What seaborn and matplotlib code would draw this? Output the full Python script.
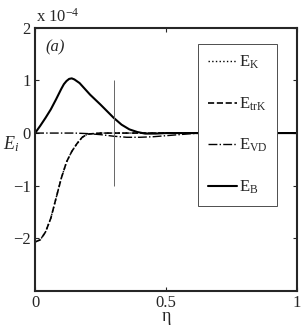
import numpy as np
import pandas as pd
import matplotlib
matplotlib.use("Agg")
import matplotlib.pyplot as plt
import seaborn as sns

# energy terms, in units of 1e-4
eta_B = [0, 0.02, 0.04, 0.06, 0.08, 0.10, 0.11, 0.12, 0.13, 0.14, 0.15, 0.17, 0.19,
         0.21, 0.25, 0.30, 0.33, 0.36, 0.39, 0.42, 0.46, 0.50, 1.0]
E_B = [0, 0.14, 0.29, 0.45, 0.64, 0.84, 0.93, 0.99, 1.03, 1.04, 1.02, 0.95, 0.84,
       0.73, 0.54, 0.29, 0.16, 0.07, 0.02, -0.01, -0.01, 0, 0]

eta_trK = [0, 0.02, 0.04, 0.06, 0.08, 0.10, 0.12, 0.14, 0.16, 0.18, 0.20, 0.25, 0.30, 1.0]
E_trK = [-2.07, -2.03, -1.88, -1.62, -1.24, -0.86, -0.55, -0.35, -0.20, -0.08, -0.02, 0, 0, 0]
E_K = [-2.07, -2.03, -1.88, -1.62, -1.24, -0.86, -0.55, -0.35, -0.20, -0.08, -0.02, 0, 0, 0]

eta_VD = [0, 0.15, 0.20, 0.25, 0.30, 0.35, 0.40, 0.45, 0.50, 0.55, 0.60, 0.65, 1.0]
E_VD = [0, 0, -0.01, -0.03, -0.06, -0.08, -0.08, -0.07, -0.05, -0.03, -0.01, 0, 0]

labels = [r'$\mathrm{E_K}$', r'$\mathrm{E_{trK}}$', r'$\mathrm{E_{VD}}$', r'$\mathrm{E_B}$']
marker_eta = 0.3
marker_span = (-1, 1)

sns.set_style("ticks")
plt.rcParams['font.family'] = ['Liberation Serif', 'DejaVu Serif']
plt.rcParams['mathtext.fontset'] = 'custom'
plt.rcParams['mathtext.rm'] = 'Liberation Serif'
plt.rcParams['mathtext.it'] = 'Liberation Serif:italic'

fig = plt.figure(figsize=(3.05, 3.32), dpi=100)
ax = fig.add_axes([0.115, 0.124, 0.859, 0.792])

sns.lineplot(x=eta_trK, y=E_K, ax=ax, color='black', lw=1.0, linestyle=':', label=labels[0])
sns.lineplot(x=eta_trK, y=E_trK, ax=ax, color='black', lw=1.2, linestyle='--', label=labels[1])
sns.lineplot(x=eta_VD, y=E_VD, ax=ax, color='black', lw=1.0, linestyle='-.', label=labels[2])
sns.lineplot(x=eta_B, y=E_B, ax=ax, color='black', lw=1.5, linestyle='-', label=labels[3])
ax.vlines(marker_eta, marker_span[0], marker_span[1], color='0.4', lw=0.7)

ax.set_xlim(0, 1)
ax.set_ylim(-3, 2)
ax.set_xticks([0, 0.5, 1])
ax.set_xticklabels(['0', '0.5', '1'])
ax.set_yticks([-2, -1, 0, 1, 2])
ax.set_yticklabels(['\u22122', '\u22121', '0', '1', '2'])
ax.tick_params(direction='in', length=3, width=0.8, labelsize=12, top=True, right=True, pad=3)
for s in ax.spines.values():
    s.set_linewidth(1.5)
ax.set_xlabel(r'$\mathrm{\eta}$', fontsize=13, labelpad=-1)
ax.set_ylabel(r'$E_i$', fontsize=13, rotation=0)
ax.yaxis.set_label_coords(-0.09, 0.52)

ax.text(0.04, 0.91, '(a)', transform=ax.transAxes, fontsize=12, style='italic')
ax.text(0.005, 1.01, r'x 10$^{-4}$', transform=ax.transAxes, fontsize=12, ha='left', va='bottom')

leg = ax.legend(loc='upper left', bbox_to_anchor=(0.622, 0.939), borderaxespad=0,
                fontsize=12, frameon=True, fancybox=False, edgecolor='0.3', framealpha=1,
                labelspacing=1.45, handlelength=1.75, handletextpad=0.1,
                borderpad=0.6)
leg.get_frame().set_linewidth(0.7)

fig.savefig("out.png", dpi=100)
